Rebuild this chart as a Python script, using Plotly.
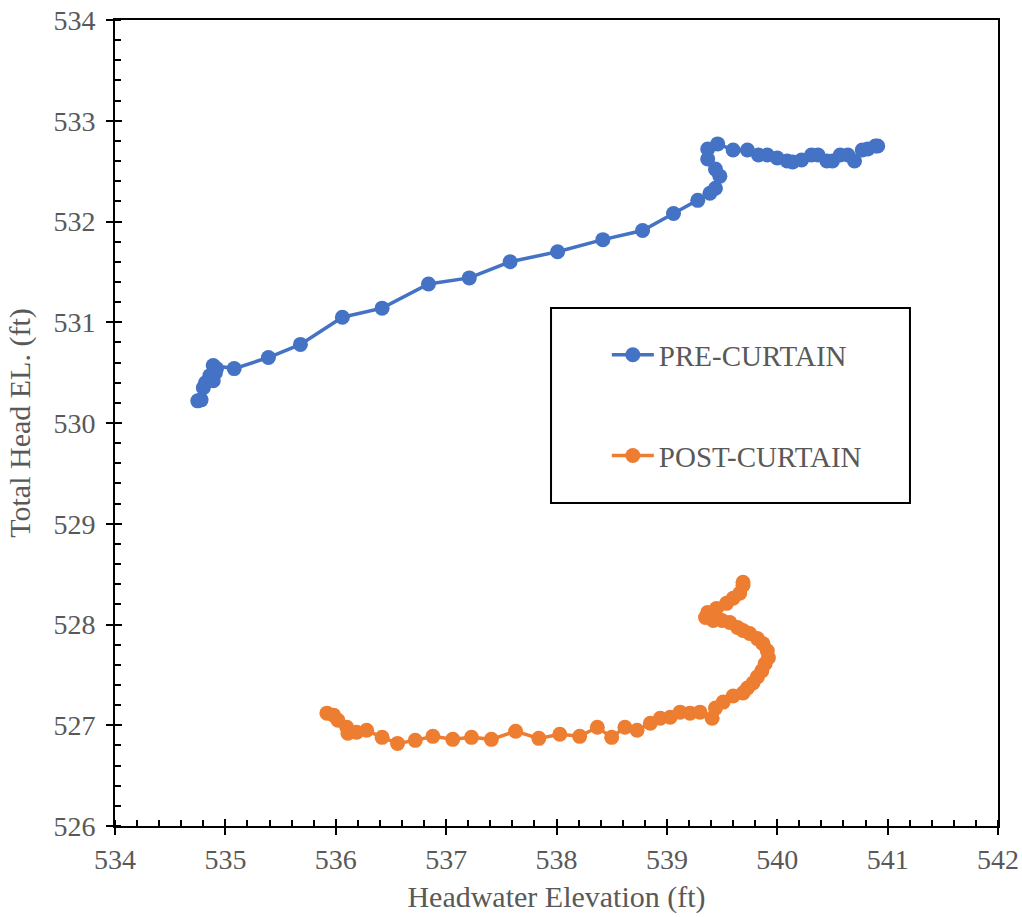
import plotly.graph_objects as go

# PRE-CURTAIN series (Headwater elevation, Total head elevation)
pre_x = [534.75, 534.78, 534.80, 534.82, 534.89, 534.86, 534.91, 534.92, 534.89,
         535.08, 535.39, 535.68, 536.06, 536.42, 536.84, 537.21, 537.58, 538.01,
         538.42, 538.78, 539.06, 539.28, 539.39, 539.44, 539.48, 539.44, 539.37,
         539.37, 539.46, 539.60, 539.73, 539.83, 539.91, 540.00, 540.09, 540.14,
         540.22, 540.31, 540.37, 540.45, 540.50, 540.57, 540.64, 540.70, 540.77,
         540.82, 540.89, 540.91]
pre_y = [530.22, 530.23, 530.35, 530.40, 530.42, 530.47, 530.50, 530.54, 530.57,
         530.54, 530.65, 530.78, 531.05, 531.14, 531.38, 531.44, 531.60, 531.70,
         531.82, 531.91, 532.08, 532.21, 532.28, 532.33, 532.45, 532.52, 532.62,
         532.72, 532.77, 532.71, 532.71, 532.66, 532.66, 532.63, 532.60, 532.59,
         532.61, 532.66, 532.66, 532.60, 532.60, 532.66, 532.66, 532.60, 532.71,
         532.72, 532.75, 532.75]

# POST-CURTAIN series
post_x = [535.92, 535.98, 536.02, 536.10, 536.11, 536.19, 536.28, 536.42, 536.56,
          536.72, 536.88, 537.06, 537.23, 537.41, 537.63, 537.84, 538.03, 538.21,
          538.37, 538.50, 538.62, 538.73, 538.85, 538.94, 539.03, 539.12, 539.21,
          539.30, 539.41, 539.44, 539.51, 539.60, 539.69, 539.73, 539.78, 539.82,
          539.86, 539.89, 539.92, 539.91, 539.87, 539.82, 539.75, 539.69, 539.64,
          539.57, 539.50, 539.42, 539.35, 539.37, 539.45, 539.54, 539.60, 539.66,
          539.69, 539.69]
post_y = [527.12, 527.10, 527.05, 526.98, 526.92, 526.93, 526.95, 526.88, 526.82,
          526.85, 526.89, 526.86, 526.88, 526.86, 526.94, 526.87, 526.91, 526.89,
          526.98, 526.88, 526.98, 526.95, 527.02, 527.07, 527.08, 527.13, 527.12,
          527.13, 527.07, 527.17, 527.23, 527.29, 527.32, 527.37, 527.42, 527.48,
          527.54, 527.61, 527.67, 527.74, 527.81, 527.86, 527.91, 527.94, 527.97,
          528.02, 528.04, 528.04, 528.07, 528.12, 528.16, 528.21, 528.26, 528.31,
          528.39, 528.42]

x_range = [534, 542]
y_range = [526, 534]
x_title = "Headwater Elevation (ft)"
y_title = "Total Head EL. (ft)"

BLUE = "#4472C4"
ORANGE = "#ED7D31"
TEXT = "#595959"
FONT = "Liberation Serif, Times New Roman, serif"
FS_TICK = 28
FS_TITLE = 30
FS_LEG = 29

fig = go.Figure()
fig.add_trace(go.Scatter(x=pre_x, y=pre_y, mode="lines+markers", name="PRE-CURTAIN",
                         legendgroup="a",
                         line=dict(color=BLUE, width=3.5),
                         marker=dict(color=BLUE, size=15)))
fig.add_trace(go.Scatter(x=post_x, y=post_y, mode="lines+markers", name="POST-CURTAIN",
                         legendgroup="b",
                         line=dict(color=ORANGE, width=3.5),
                         marker=dict(color=ORANGE, size=15)))
# empty trace to create overlay axes for inside major ticks (cross ticks)
fig.add_trace(go.Scatter(x=[], y=[], xaxis="x2", yaxis="y2", showlegend=False,
                         hoverinfo="skip"))

axis_common = dict(
    showgrid=False, zeroline=False, automargin=False,
    showline=True, linecolor="black", linewidth=2, mirror=True,
    ticks="outside", ticklen=7, tickwidth=2, tickcolor="black",
    dtick=1,
    minor=dict(ticks="inside", ticklen=6, tickwidth=1.5, tickcolor="black", dtick=0.2),
    tickfont=dict(family=FONT, size=FS_TICK, color=TEXT),
)

fig.update_layout(
    width=1022, height=917,
    paper_bgcolor="white", plot_bgcolor="white",
    margin=dict(l=115, r=24, t=20, b=91),
    font=dict(family=FONT, size=FS_TICK, color=TEXT),
    xaxis=dict(range=x_range, tick0=534,
               title=dict(text=x_title, font=dict(family=FONT, size=FS_TITLE, color=TEXT), standoff=12),
               **axis_common),
    yaxis=dict(range=y_range, tick0=526, ticklabelstandoff=5,
               title=dict(text=y_title, font=dict(family=FONT, size=FS_TITLE, color=TEXT), standoff=14),
               **axis_common),
    xaxis2=dict(range=x_range, overlaying="x", anchor="y", side="bottom",
                showgrid=False, zeroline=False, showline=False, automargin=False,
                ticks="inside", ticklen=7, tickwidth=2, tickcolor="black",
                dtick=1, tick0=534, showticklabels=False),
    yaxis2=dict(range=y_range, overlaying="y", anchor="x", side="left",
                showgrid=False, zeroline=False, showline=False, automargin=False,
                ticks="inside", ticklen=7, tickwidth=2, tickcolor="black",
                dtick=1, tick0=526, showticklabels=False),
    legend=dict(x=0.557, y=0.5218, xanchor="left", yanchor="middle",
                bgcolor="rgba(0,0,0,0)", borderwidth=0,
                tracegroupgap=60, itemwidth=42,
                font=dict(family=FONT, size=FS_LEG, color=TEXT)),
    shapes=[dict(type="rect", xref="paper", yref="paper",
                 x0=0.4938, x1=0.9003, y0=0.4007, y1=0.6427,
                 line=dict(color="black", width=2), fillcolor="rgba(0,0,0,0)")],
)

fig.write_html("out.html")
